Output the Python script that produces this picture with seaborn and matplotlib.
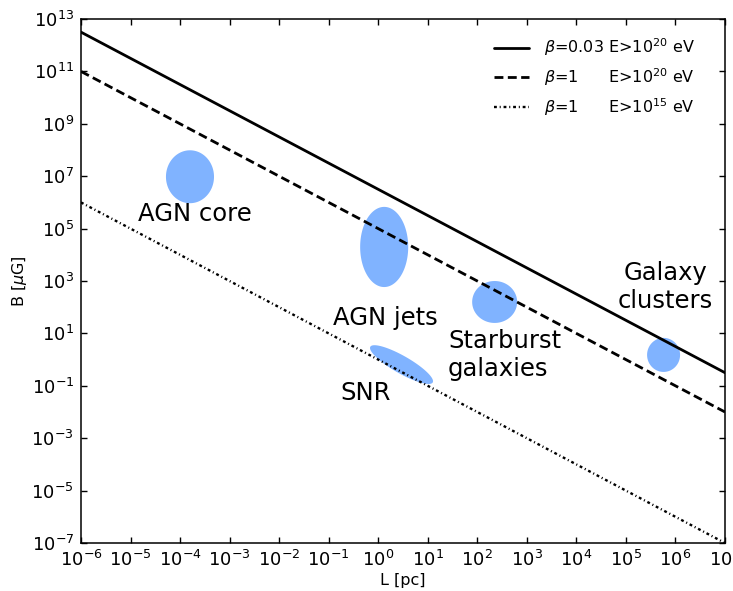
import numpy as np
import pandas as pd
import matplotlib
matplotlib.use("Agg")
import matplotlib.pyplot as plt
import seaborn as sns

# ---- data ----
L_ends = [1e-6, 1e7]                      # pc
B_beta003_E20 = [10**12.5, 10**-0.5]      # muG
B_beta1_E20 = [1e11, 1e-2]
B_beta1_E15 = [1e6, 1e-7]
line_labels = [r"$\beta$=0.03 E>10$^{20}$ eV",
               r"$\beta$=1      E>10$^{20}$ eV",
               r"$\beta$=1      E>10$^{15}$ eV"]

src_names = ["AGN core", "AGN jets", "Starburst\ngalaxies", "Galaxy\nclusters", "SNR"]
src_logL = [-3.80, 0.12, 2.35, 5.76, 0.47]       # centre, log10 pc
src_logB = [6.98, 4.30, 2.20, 0.18, -0.19]       # centre, log10 muG
src_dL = [0.485, 0.485, 0.454, 0.333, 0.636]     # half extent, decades
src_dB = [1.01, 1.53, 0.80, 0.65, 0.74]          # half extent, decades
src_phase = [90, 90, 90, 90, 31]                 # deg, 90 = axis aligned

x_ticks = [10.0**k for k in range(-6, 8)]
y_ticks = [10.0**k for k in range(-7, 14, 2)]

# ---- figure ----
sns.set_style("ticks")
plt.rcParams["font.family"] = ["DejaVu Sans"]
plt.rcParams["mathtext.fontset"] = "dejavusans"
for k in ["text.color", "axes.labelcolor", "xtick.color", "ytick.color",
          "axes.edgecolor"]:
    plt.rcParams[k] = "black"

fig = plt.figure(figsize=(7.33, 5.91), dpi=100)
ax = fig.add_axes([0.1105, 0.0812, 0.8786, 0.8866])
ax.set_xscale("log")
ax.set_yscale("log")

df = pd.DataFrame({"L": L_ends * 3,
                   "B": B_beta003_E20 + B_beta1_E20 + B_beta1_E15,
                   "curve": sum([[lab] * 2 for lab in line_labels], [])})

styles = ["-", (0, (3.2, 1.6)), (0, (1.2, 1.2, 0.45, 1.2))]
widths = [2.0, 2.0, 1.7]
for lab, ls, lw in zip(line_labels, styles, widths):
    sub = df[df["curve"] == lab]
    sns.lineplot(data=sub, x="L", y="B", ax=ax, color="black",
                 linestyle=ls, linewidth=lw, label=lab)

# source regions (ellipses in log space)
t = np.linspace(0, 2 * np.pi, 200)
blue = "#80b3ff"
for cl, cb, dl, db, ph in zip(src_logL, src_logB, src_dL, src_dB, src_phase):
    xs = cl + dl * np.cos(t)
    ys = cb - db * np.cos(t + np.deg2rad(ph))
    ax.fill(10**xs, 10**ys, color=blue, lw=0, zorder=1)

text_pos = {"AGN core": (-3.70, 5.56, "center"),
            "AGN jets": (0.14, 1.59, "center"),
            "Starburst\ngalaxies": (1.41, 0.18, "left"),
            "Galaxy\nclusters": (5.79, 2.76, "center"),
            "SNR": (-0.25, -1.27, "center")}
for name in src_names:
    lx, ly, ha = text_pos[name]
    ax.text(10**lx, 10**ly, name, fontsize=17.5, ha=ha, va="center",
            multialignment=ha, linespacing=1.2)

ax.set_xlim(1e-6, 1e7)
ax.set_ylim(1e-7, 1e13)
ax.set_xticks(x_ticks)
ax.set_yticks(y_ticks)
ax.minorticks_off()
ax.tick_params(which="both", direction="in", top=True, right=True,
               length=4, width=1, labelsize=13, pad=5)
for sp in ax.spines.values():
    sp.set_linewidth(1.1)
    sp.set_visible(True)

ax.set_xlabel("L [pc]", fontsize=11.5, labelpad=2)
ax.set_ylabel(r"B [$\mu$G]", fontsize=11.5, labelpad=2)

leg = ax.legend(loc="upper right", bbox_to_anchor=(0.98, 1.0),
                frameon=False, fontsize=11.5,
                handlelength=2.2, handletextpad=0.9, labelspacing=0.5,
                borderaxespad=0.7)

fig.savefig("out.png", dpi=100)
